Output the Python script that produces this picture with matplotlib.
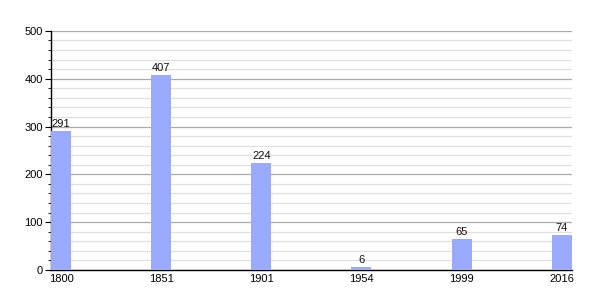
import matplotlib
matplotlib.use("Agg")
import matplotlib.pyplot as plt
from matplotlib.ticker import MultipleLocator

plt.rcParams["font.family"] = ["Liberation Sans", "DejaVu Sans"]

years = ["1800", "1851", "1901", "1954", "1999", "2016"]
values = [291, 407, 224, 6, 65, 74]

fig = plt.figure(figsize=(6, 3), dpi=100)
ax = fig.add_axes([0.085, 0.1, 0.868, 0.797])
w = 0.2
x = list(range(len(years)))
ax.bar(x, values, width=w, color="#99aaff", zorder=3)
for xi, v in zip(x, values):
    ax.text(xi, v + 4, str(v), ha="center", va="bottom", fontsize=8, color="#111111")
ax.set_xlim(-w / 2, len(years) - 1 + w / 2)
ax.set_ylim(0, 500)
ax.set_xticks(x)
ax.set_xticklabels(years)
ax.yaxis.set_major_locator(MultipleLocator(100))
ax.yaxis.set_minor_locator(MultipleLocator(20))
ax.grid(axis="y", which="major", color="#aaaaaa", linewidth=0.9, zorder=0)
ax.grid(axis="y", which="minor", color="#e0e0e0", linewidth=0.9, zorder=0)
for s in ["top", "right"]:
    ax.spines[s].set_visible(False)
ax.spines["left"].set_linewidth(1.0)
ax.spines["bottom"].set_linewidth(1.0)
ax.tick_params(axis="x", length=0, labelsize=8, pad=3)
ax.tick_params(axis="y", which="major", length=4, labelsize=8, pad=2)
ax.tick_params(axis="y", which="minor", length=2)
fig.savefig("out.png", dpi=100)
